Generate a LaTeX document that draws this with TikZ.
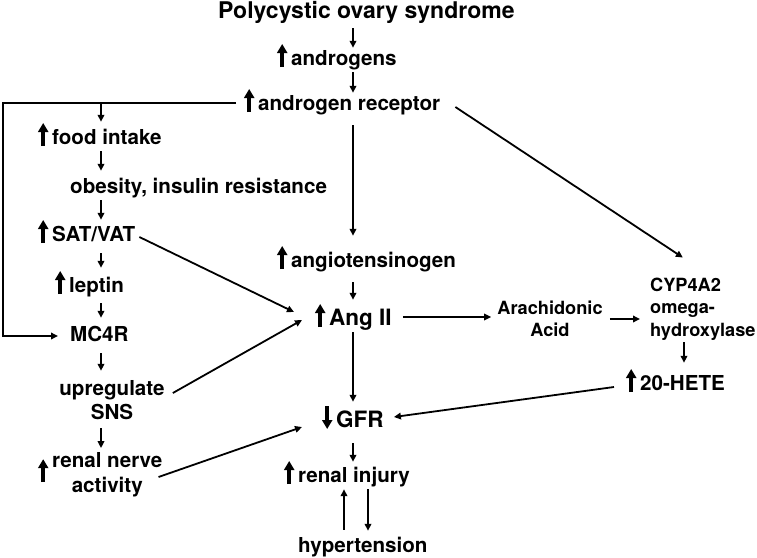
\documentclass[tikz,border=0pt]{standalone}
\usepackage{fontspec}
\setmainfont{TeX Gyre Heros}
\usepackage{tikz}
\usetikzlibrary{arrows.meta,positioning,calc}
\tikzstyle{Tnode}=[inner sep=2pt,font=\bfseries\fontsize{20.6}{24.7}\selectfont,text height=15pt,text depth=5pt]
\tikzstyle{Tblock}=[inner sep=2pt,font=\bfseries\fontsize{20.6}{24.7}\selectfont,align=center]
\tikzstyle{Tsmall}=[inner sep=2pt,font=\bfseries\fontsize{18.2}{22.5}\selectfont]
\tikzstyle{Tbig}=[Tnode,font=\bfseries\fontsize{22.5}{27}\selectfont]
\tikzstyle{flowedge}=[line width=1.8pt,-{Triangle[length=7pt,width=6.5pt]}]
\newcommand{\incr}{\tikz[baseline=0pt]\draw[line width=3.6pt,-{Triangle[length=9pt,width=10pt]}] (0pt,-2pt) -- (0pt,21pt);\hspace{4pt}}
\newcommand{\decr}{\tikz[baseline=0pt]\draw[line width=3.6pt,-{Triangle[length=9pt,width=10pt]}] (0pt,21pt) -- (0pt,-2pt);\hspace{4pt}}
\begin{document}
\begin{tikzpicture}[x=1pt,y=-1pt]
\useasboundingbox (0,0) rectangle (757,557);

\coordinate (mid) at (353,0);
\coordinate (lcol) at (101,0);
\coordinate (rcol) at (684,0);
\coordinate (rim) at (3,0);

\node[Tnode,font=\bfseries\fontsize{23}{27}\selectfont,anchor=west] (pcos) at (216,13) {Polycystic ovary syndrome};
\node[Tnode,anchor=west] (andr) at (275,60) {\incr androgens};
\node[Tnode,anchor=west] (ar) at (242,105) {\incr androgen receptor};

\node[Tnode,anchor=west] (food) at (36,139) {\incr food intake};
\node[Tnode,anchor=west] (obes) at (68,188) {obesity, insulin resistance};
\node[Tnode,anchor=west] (sat) at (36,236) {\incr SAT/VAT};
\node[Tnode,anchor=west] (lep) at (53,287) {\incr leptin};
\node[Tnode,anchor=west] (mc4r) at (68,336) {MC4R};
\node[Tblock] (sns) at (112,400) {upregulate\\SNS};
\node[Tblock,anchor=west] (rna) at (36,475) {\incr\begin{tabular}{@{}c@{}}renal nerve\\activity\end{tabular}};

\node[Tnode,anchor=west] (agt) at (275,262) {\incr angiotensinogen};
\node[Tbig,anchor=west] (ang) at (313,320) {\incr Ang II};
\node[Tbig,anchor=west] (gfr) at (320,422) {\decr GFR};
\node[Tnode,anchor=west] (inj) at (282,477) {\incr renal injury};
\node[Tnode,anchor=west] (htn) at (296,547) {hypertension};

\node[Tsmall,align=center] (aa) at (550,319) {Arachidonic\\Acid};
\node[Tsmall,align=left,anchor=west] (cyp) at (648,309) {CYP4A2\\omega-\\hydroxylase};
\node[Tnode,anchor=west] (hete) at (624,385) {\incr 20-HETE};

\coordinate (arl) at ([shift={(-6,-2)}]ar.west);
\draw[flowedge,shorten >=10pt] (arl) -- (arl -| rim) |- (mc4r.west);

\path
(pcos.south -| mid) edge [flowedge,shorten <=3pt] (andr.north -| mid)
(andr.south -| mid) edge [flowedge] (ar.north -| mid)
(ar.south -| mid) edge [flowedge,shorten <=8pt,shorten >=14pt] (agt.north -| mid)
(agt.south -| mid) edge [flowedge,shorten <=8pt,shorten >=8pt] (ang.north -| mid)
(ang.south -| mid) edge [flowedge,shorten >=8pt] (gfr.north -| mid)
(gfr.south -| mid) edge [flowedge,shorten <=9pt,shorten >=3pt] (inj.north -| mid)
([xshift=-9pt]htn.north -| mid) edge [flowedge,shorten <=5pt] ([xshift=-9pt]inj.south -| mid)
([xshift=15pt]inj.south -| mid) edge [flowedge,shorten >=4pt] ([xshift=15pt]htn.north -| mid)

(arl -| lcol) edge [flowedge,shorten >=5pt] (food.north -| lcol)
(food.south -| lcol) edge [flowedge,shorten >=5pt] (obes.north -| lcol)
(obes.south -| lcol) edge [flowedge,shorten >=4pt] (sat.north -| lcol)
(sat.south -| lcol) edge [flowedge,shorten <=5pt,shorten >=7pt] (lep.north -| lcol)
(lep.south -| lcol) edge [flowedge,shorten <=4pt,shorten >=6pt] (mc4r.north -| lcol)
(mc4r.south -| lcol) edge [flowedge,shorten <=5pt,shorten >=7pt] (sns.north -| lcol)
(sns.south -| lcol) edge [flowedge,shorten <=6pt] (rna.north -| lcol)

([shift={(2,1)}]sat.east) edge [flowedge] ([shift={(-19,-8)}]ang.west)
([shift={(6,-7)}]sns.east) edge [flowedge] ([shift={(-11,0)}]ang.west)
([shift={(-6,2)}]rna.east) edge [flowedge] ([shift={(-18,5)}]gfr.west)
([shift={(-10,2)}]hete.west) edge [flowedge] ([shift={(8,-5)}]gfr.east)

([shift={(9,-3)}]ang.east) edge [flowedge,shorten >=4pt] ([shift={(0,-3)}]ang.east -| aa.west)
(aa.east) edge [flowedge,shorten <=5pt,shorten >=8pt] (aa.east -| cyp.west)
([shift={(13,2)}]ar.east) edge [flowedge] ([shift={(-20,-18)}]cyp.north)
(cyp.south -| rcol) edge [flowedge,shorten >=10pt] (hete.north -| rcol);

\end{tikzpicture}
\end{document}
